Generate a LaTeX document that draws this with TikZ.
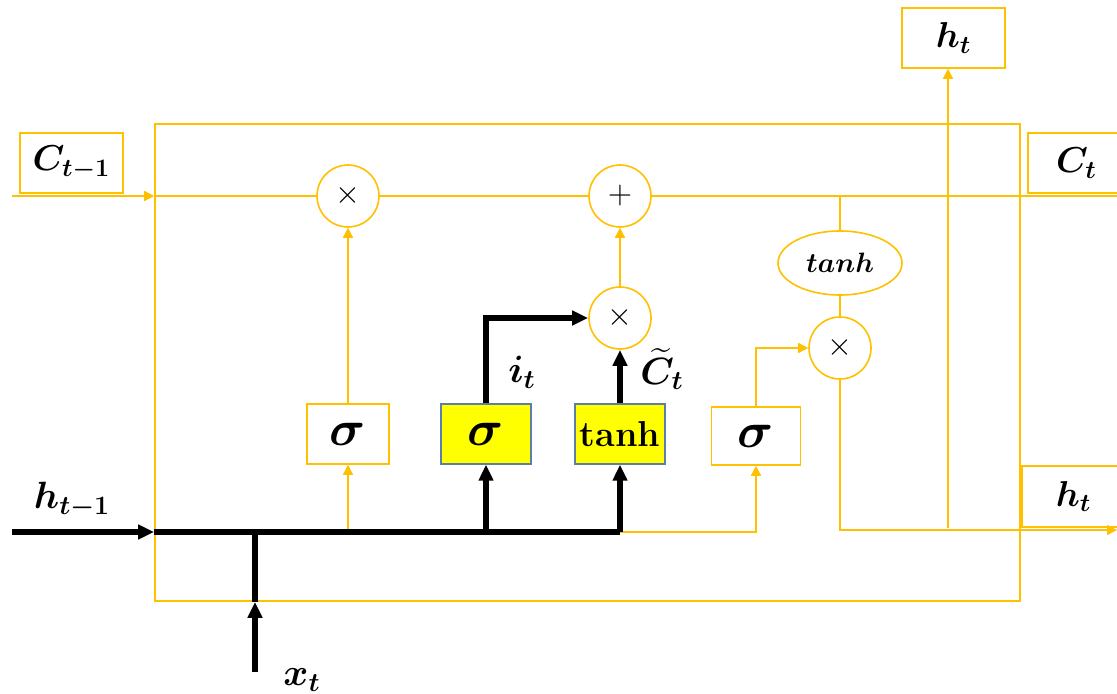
\documentclass[tikz,border=0pt]{standalone}
\usepackage{fix-cm}
\usepackage{amsmath,bm}
\usetikzlibrary{arrows.meta,shapes.geometric}
\definecolor{lstmorange}{HTML}{FFC000}
\definecolor{lstmyellow}{HTML}{FFFF00}
\definecolor{lstmedge}{HTML}{5B7FA8}

\begin{document}
\begin{tikzpicture}[
  x=0.5pt, y=-0.5pt,
  every node/.style={inner sep=0pt},
  wire/.style={draw=lstmorange, line width=0.8pt},
  warrow/.style={wire, -{Triangle[length=5pt,width=5pt]}},
  bus/.style={draw=black, line width=2.6pt, line join=miter},
  barrow/.style={bus, -{Triangle[length=8pt,width=7pt]}},
  gate/.style={draw=lstmorange, line width=0.8pt, fill=white, minimum width=41pt, minimum height=30pt, font=\fontsize{25}{28}\selectfont},
  hgate/.style={draw=lstmedge, line width=0.6pt, fill=lstmyellow, minimum width=45pt, minimum height=30pt, font=\fontsize{25}{28}\selectfont},
  op/.style={circle, draw=lstmorange, line width=0.8pt, fill=white, minimum size=31pt, font=\fontsize{16}{16}\selectfont},
  tag/.style={draw=lstmorange, line width=0.8pt, fill=white, minimum width=51.5pt, minimum height=30pt, font=\fontsize{18}{20}\selectfont},
  lbl/.style={font=\fontsize{19}{22}\selectfont}]

  \useasboundingbox (0,0) rectangle (1117,694);

  % --- the cell outline ---
  \node[draw=lstmorange, line width=0.8pt, minimum width=432.5pt, minimum height=238.5pt] (cell) at (587.5,362.5) {};

  % --- inputs and outputs ---
  \node[tag] (cprev) at (71.5,163) {$\bm{C_{t-1}}$};
  \node[tag, minimum width=48.5pt] (cnext) at (1076.5,163) {$\bm{C_t}$};
  \node[tag] (htop) at (953.5,38) {$\bm{h_t}$};
  \node[tag, minimum height=30.5pt] (hright) at (1073.5,496.5) {$\bm{h_t}$};

  % --- pointwise operations ---
  \node[op] (multf) at (348,196) {$\times$};
  \node[op] (addc) at (620,196) {$+$};
  \node[op] (multi) at (620,318) {$\times$};
  \node[op] (multo) at (840,348) {$\times$};
  \node[ellipse, draw=lstmorange, line width=0.8pt, fill=white, minimum width=62pt, minimum height=32pt,
        font=\fontsize{14}{16}\selectfont] (tanho) at (840,263) {$\bm{tanh}$};

  % --- gate layers ---
  \node[gate] (sigf) at (348,434) {$\bm{\sigma}$};
  \node[hgate] (sigi) at (486,434) {$\bm{\sigma}$};
  \node[hgate, font=\fontsize{18}{20}\selectfont] (tanhc) at (620,434) {\textbf{tanh}};
  \node[gate, minimum width=44.5pt, minimum height=29pt] (sigo) at (756,436) {$\bm{\sigma}$};

  % --- free ends ---
  \coordinate (cin) at (12,196);
  \coordinate (cout) at (1117,196);
  \coordinate (tsplit) at (840,196);
  \coordinate (hin) at (12,532);
  \coordinate (xin) at (255,672);
  \coordinate (bend) at (620,532);
  \coordinate (hsplit) at (948,528);
  \coordinate (hend) at (1117,530);

  % --- cell state line ---
  \draw[warrow] (cin) -- (cin -| cell.west);
  \draw[wire] (cin -| cell.west) -- (multf) -- (addc) -- (cout);
  \draw[wire] (tsplit) -- (tanho) -- (multo);
  \draw[warrow] (sigf) -- (multf);
  \draw[warrow] (multi) -- (addc);

  % --- output path ---
  \draw[warrow] (bend) -| (sigo);
  \draw[warrow] (sigo) |- (multo);
  \draw[warrow] (multo) |- (hend);
  \draw[warrow] (hsplit) -- (hsplit |- htop.south);

  % --- input bus, thick ---
  \draw[warrow] (sigf |- bend) -- (sigf);
  \draw[barrow] (hin) -- (hin -| cell.west);
  \draw[bus] (hin -| cell.west) -- (bend);
  \draw[barrow] (xin) -- (xin |- cell.south);
  \draw[bus] (xin |- cell.south) -- (xin |- bend);
  \draw[barrow] (sigi |- bend) -- (sigi);
  \draw[barrow] (tanhc |- bend) -- (tanhc);
  \draw[barrow] (sigi) |- (multi);
  \draw[barrow] (tanhc) -- (multi);

  % --- labels ---
  \node[lbl] (hlbl) at (72,500) {$\bm{h_{t-1}}$};
  \node[lbl] (xlbl) at (302,680) {$\bm{x_t}$};
  \node[lbl] (ilbl) at (522,372) {$\bm{i_t}$};
  \node[lbl] (clbl) at (662,369) {$\widetilde{\bm{C}}_{\bm{t}}$};

\end{tikzpicture}
\end{document}
